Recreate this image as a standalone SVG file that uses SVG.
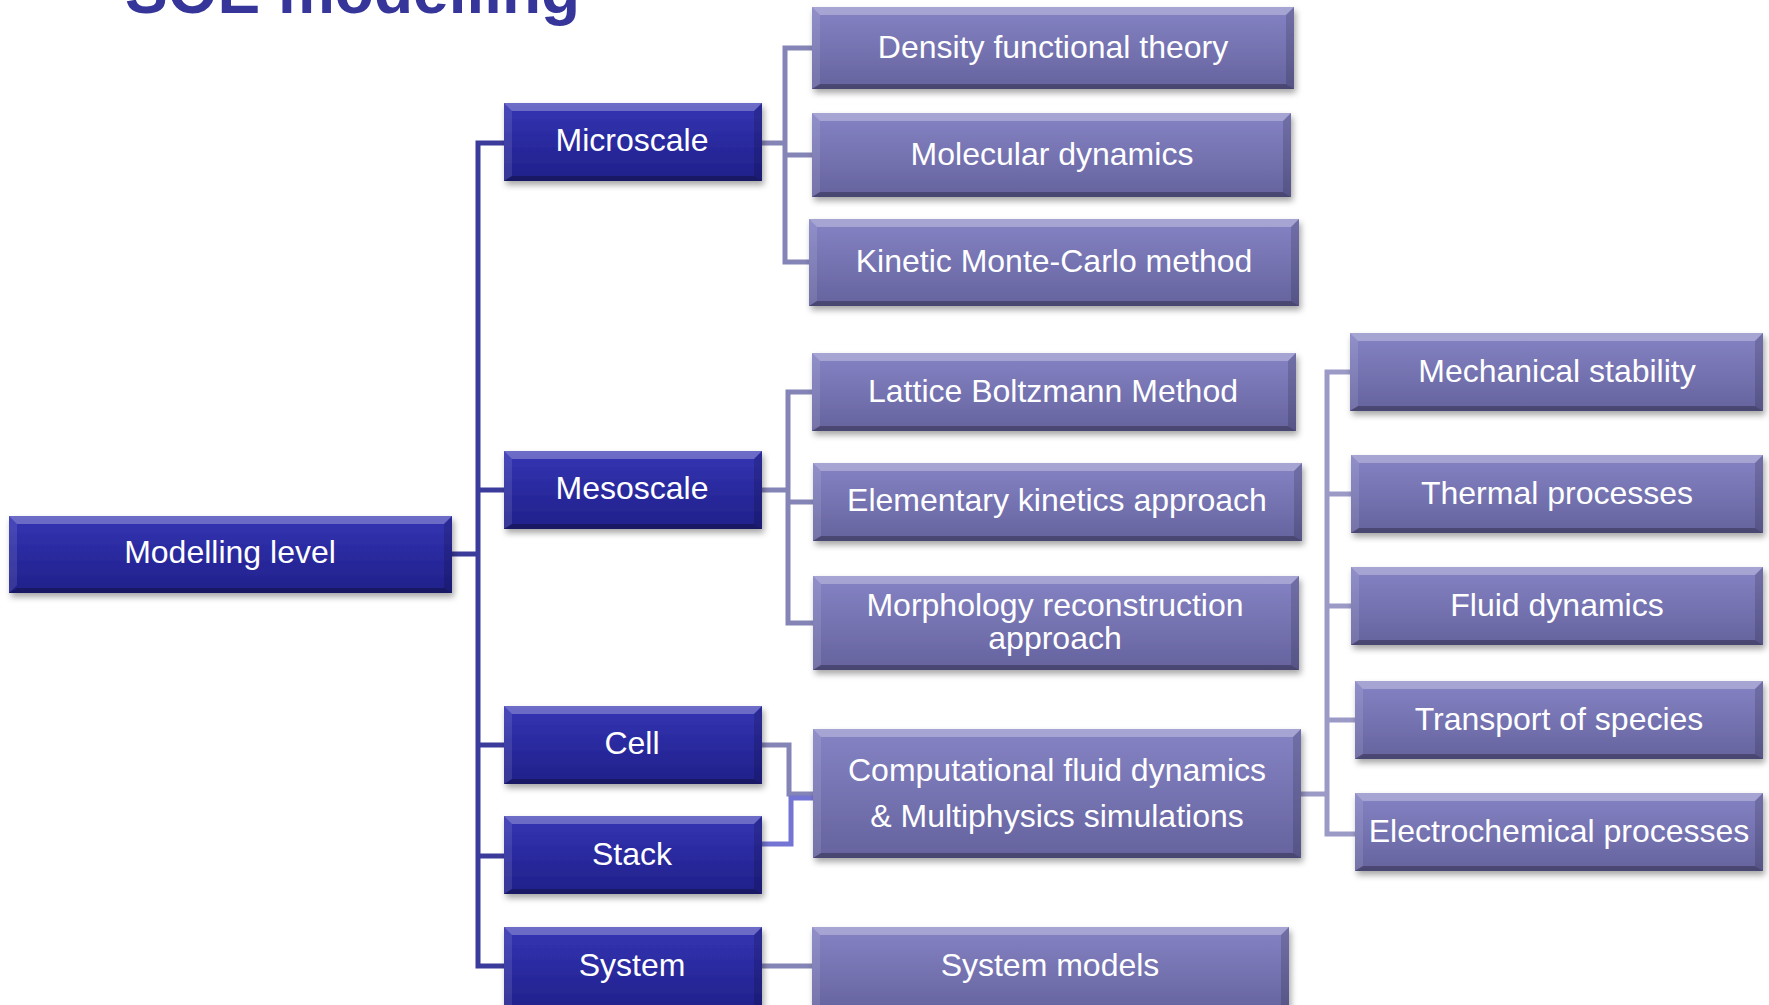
<svg xmlns="http://www.w3.org/2000/svg" width="1769" height="1005" viewBox="0 0 1769 1005">
<style>
  text { font-family: "Liberation Sans", Arial, sans-serif; }
  .lbl { font-size: 32px; fill: #ffffff; text-anchor: middle; }
  .title { font-size: 64px; font-weight: bold; fill: #35359a; }
  .dark { fill: url(#gDark); filter: url(#sh); }
  .pur { fill: url(#gPur); filter: url(#sh); }
  .bt { fill: #ffffff; fill-opacity: 0.28; }
  .bl { fill: #ffffff; fill-opacity: 0.10; }
  .bb { fill: #000000; fill-opacity: 0.28; }
  .br { fill: #000000; fill-opacity: 0.15; }
  .c0 { fill: none; stroke: #3b3b9b; stroke-width: 5; }
  .c1 { fill: none; stroke: #8584b6; stroke-width: 5; }
  .c2 { fill: none; stroke: #9b99c6; stroke-width: 5; }
  .c3 { fill: none; stroke: #7474d4; stroke-width: 5; }
</style>
<defs>
  <linearGradient id="gDark" x1="0" y1="0" x2="0" y2="1">
    <stop offset="0" stop-color="#3434b4"/>
    <stop offset="1" stop-color="#20208a"/>
  </linearGradient>
  <linearGradient id="gPur" x1="0" y1="0" x2="0" y2="1">
    <stop offset="0" stop-color="#8583c4"/>
    <stop offset="1" stop-color="#65639e"/>
  </linearGradient>
  <filter id="sh" x="-5%" y="-10%" width="112%" height="130%">
    <feDropShadow dx="2" dy="4" stdDeviation="3" flood-color="#000" flood-opacity="0.35"/>
  </filter>
</defs>
<rect width="1769" height="1005" fill="#ffffff"/>
<text class="title" x="125" y="13">SOE modelling</text>

<g id="connectors">
  <path class="c0" d="M504 143 H478 V966 H504 M478 490 H504 M478 745 H504 M478 856 H504 M452 554 H478"/>
  <path class="c1" d="M762 143 H785 M812 48 H785 V262 H809 M785 155 H812"/>
  <path class="c1" d="M762 490 H788 M812 392 H788 V623 H813 M788 502 H813"/>
  <path class="c1" d="M762 745 H789 V794 H813"/>
  <path class="c3" d="M762 844 H791 V798 H813"/>
  <path class="c1" d="M762 966 H812"/>
  <path class="c2" d="M1301 794 H1327 M1350 372 H1327 V834 H1355 M1327 494 H1351 M1327 606 H1351 M1327 720 H1355"/>
</g>

<g id="modelling-level">
  <rect class="dark" x="9" y="516" width="443" height="77"/>
  <polygon class="bt" points="9,516 452,516 444,524 17,524"/>
  <polygon class="bl" points="9,516 17,524 17,585 9,593"/>
  <polygon class="bb" points="9,593 452,593 444,588 17,588"/>
  <polygon class="br" points="452,516 452,593 444,588 444,524"/>
  <text class="lbl" x="230" y="563">Modelling level</text>
</g>

<g id="microscale">
  <rect class="dark" x="504" y="103" width="258" height="78"/>
  <polygon class="bt" points="504,103 762,103 754,111 512,111"/>
  <polygon class="bl" points="504,103 512,111 512,176 504,181"/>
  <polygon class="bb" points="504,181 762,181 754,176 512,176"/>
  <polygon class="br" points="762,103 762,181 754,176 754,111"/>
  <text class="lbl" x="632" y="151">Microscale</text>
</g>

<g id="mesoscale">
  <rect class="dark" x="504" y="451" width="258" height="78"/>
  <polygon class="bt" points="504,451 762,451 754,459 512,459"/>
  <polygon class="bl" points="504,451 512,459 512,524 504,529"/>
  <polygon class="bb" points="504,529 762,529 754,524 512,524"/>
  <polygon class="br" points="762,451 762,529 754,524 754,459"/>
  <text class="lbl" x="632" y="499">Mesoscale</text>
</g>

<g id="cell">
  <rect class="dark" x="504" y="706" width="258" height="78"/>
  <polygon class="bt" points="504,706 762,706 754,714 512,714"/>
  <polygon class="bl" points="504,706 512,714 512,779 504,784"/>
  <polygon class="bb" points="504,784 762,784 754,779 512,779"/>
  <polygon class="br" points="762,706 762,784 754,779 754,714"/>
  <text class="lbl" x="632" y="754">Cell</text>
</g>

<g id="stack">
  <rect class="dark" x="504" y="816" width="258" height="78"/>
  <polygon class="bt" points="504,816 762,816 754,824 512,824"/>
  <polygon class="bl" points="504,816 512,824 512,889 504,894"/>
  <polygon class="bb" points="504,894 762,894 754,889 512,889"/>
  <polygon class="br" points="762,816 762,894 754,889 754,824"/>
  <text class="lbl" x="632" y="865">Stack</text>
</g>

<g id="system">
  <rect class="dark" x="504" y="927" width="258" height="86"/>
  <polygon class="bt" points="504,927 762,927 754,935 512,935"/>
  <polygon class="bl" points="504,927 512,935 512,1013 504,1013"/>
  <polygon class="br" points="762,927 762,1013 754,1013 754,935"/>
  <text class="lbl" x="632" y="976">System</text>
</g>

<g id="dft">
  <rect class="pur" x="812" y="7" width="482" height="82"/>
  <polygon class="bt" points="812,7 1294,7 1286,15 820,15"/>
  <polygon class="bl" points="812,7 820,15 820,84 812,89"/>
  <polygon class="bb" points="812,89 1294,89 1286,84 820,84"/>
  <polygon class="br" points="1294,7 1294,89 1286,84 1286,15"/>
  <text class="lbl" x="1053" y="58">Density functional theory</text>
</g>

<g id="md">
  <rect class="pur" x="812" y="113" width="479" height="84"/>
  <polygon class="bt" points="812,113 1291,113 1283,121 820,121"/>
  <polygon class="bl" points="812,113 820,121 820,192 812,197"/>
  <polygon class="bb" points="812,197 1291,197 1283,192 820,192"/>
  <polygon class="br" points="1291,113 1291,197 1283,192 1283,121"/>
  <text class="lbl" x="1052" y="165">Molecular dynamics</text>
</g>

<g id="kmc">
  <rect class="pur" x="809" y="219" width="490" height="87"/>
  <polygon class="bt" points="809,219 1299,219 1291,227 817,227"/>
  <polygon class="bl" points="809,219 817,227 817,301 809,306"/>
  <polygon class="bb" points="809,306 1299,306 1291,301 817,301"/>
  <polygon class="br" points="1299,219 1299,306 1291,301 1291,227"/>
  <text class="lbl" x="1054" y="272">Kinetic Monte-Carlo method</text>
</g>

<g id="lbm">
  <rect class="pur" x="812" y="353" width="484" height="78"/>
  <polygon class="bt" points="812,353 1296,353 1288,361 820,361"/>
  <polygon class="bl" points="812,353 820,361 820,426 812,431"/>
  <polygon class="bb" points="812,431 1296,431 1288,426 820,426"/>
  <polygon class="br" points="1296,353 1296,431 1288,426 1288,361"/>
  <text class="lbl" x="1053" y="402">Lattice Boltzmann Method</text>
</g>

<g id="eka">
  <rect class="pur" x="813" y="463" width="489" height="78"/>
  <polygon class="bt" points="813,463 1302,463 1294,471 821,471"/>
  <polygon class="bl" points="813,463 821,471 821,536 813,541"/>
  <polygon class="bb" points="813,541 1302,541 1294,536 821,536"/>
  <polygon class="br" points="1302,463 1302,541 1294,536 1294,471"/>
  <text class="lbl" x="1057" y="511">Elementary kinetics approach</text>
</g>

<g id="mra">
  <rect class="pur" x="813" y="576" width="486" height="94"/>
  <polygon class="bt" points="813,576 1299,576 1291,584 821,584"/>
  <polygon class="bl" points="813,576 821,584 821,665 813,670"/>
  <polygon class="bb" points="813,670 1299,670 1291,665 821,665"/>
  <polygon class="br" points="1299,576 1299,670 1291,665 1291,584"/>
  <text class="lbl" x="1055" y="616">Morphology reconstruction</text>
  <text class="lbl" x="1055" y="649">approach</text>
</g>

<g id="cfd">
  <rect class="pur" x="813" y="729" width="488" height="129"/>
  <polygon class="bt" points="813,729 1301,729 1293,737 821,737"/>
  <polygon class="bl" points="813,729 821,737 821,853 813,858"/>
  <polygon class="bb" points="813,858 1301,858 1293,853 821,853"/>
  <polygon class="br" points="1301,729 1301,858 1293,853 1293,737"/>
  <text class="lbl" x="1057" y="781">Computational fluid dynamics</text>
  <text class="lbl" x="1057" y="827">&amp; Multiphysics simulations</text>
</g>

<g id="system-models">
  <rect class="pur" x="812" y="927" width="477" height="86"/>
  <polygon class="bt" points="812,927 1289,927 1281,935 820,935"/>
  <polygon class="bl" points="812,927 820,935 820,1013 812,1013"/>
  <polygon class="br" points="1289,927 1289,1013 1281,1013 1281,935"/>
  <text class="lbl" x="1050" y="976">System models</text>
</g>

<g id="mech">
  <rect class="pur" x="1350" y="333" width="413" height="78"/>
  <polygon class="bt" points="1350,333 1763,333 1755,341 1358,341"/>
  <polygon class="bl" points="1350,333 1358,341 1358,406 1350,411"/>
  <polygon class="bb" points="1350,411 1763,411 1755,406 1358,406"/>
  <polygon class="br" points="1763,333 1763,411 1755,406 1755,341"/>
  <text class="lbl" x="1557" y="382">Mechanical stability</text>
</g>

<g id="thermal">
  <rect class="pur" x="1351" y="455" width="412" height="78"/>
  <polygon class="bt" points="1351,455 1763,455 1755,463 1359,463"/>
  <polygon class="bl" points="1351,455 1359,463 1359,528 1351,533"/>
  <polygon class="bb" points="1351,533 1763,533 1755,528 1359,528"/>
  <polygon class="br" points="1763,455 1763,533 1755,528 1755,463"/>
  <text class="lbl" x="1557" y="504">Thermal processes</text>
</g>

<g id="fluid">
  <rect class="pur" x="1351" y="567" width="412" height="78"/>
  <polygon class="bt" points="1351,567 1763,567 1755,575 1359,575"/>
  <polygon class="bl" points="1351,567 1359,575 1359,640 1351,645"/>
  <polygon class="bb" points="1351,645 1763,645 1755,640 1359,640"/>
  <polygon class="br" points="1763,567 1763,645 1755,640 1755,575"/>
  <text class="lbl" x="1557" y="616">Fluid dynamics</text>
</g>

<g id="transport">
  <rect class="pur" x="1355" y="681" width="408" height="78"/>
  <polygon class="bt" points="1355,681 1763,681 1755,689 1363,689"/>
  <polygon class="bl" points="1355,681 1363,689 1363,754 1355,759"/>
  <polygon class="bb" points="1355,759 1763,759 1755,754 1363,754"/>
  <polygon class="br" points="1763,681 1763,759 1755,754 1755,689"/>
  <text class="lbl" x="1559" y="730">Transport of species</text>
</g>

<g id="electro">
  <rect class="pur" x="1355" y="793" width="408" height="78"/>
  <polygon class="bt" points="1355,793 1763,793 1755,801 1363,801"/>
  <polygon class="bl" points="1355,793 1363,801 1363,866 1355,871"/>
  <polygon class="bb" points="1355,871 1763,871 1755,866 1363,866"/>
  <polygon class="br" points="1763,793 1763,871 1755,866 1755,801"/>
  <text class="lbl" x="1559" y="842">Electrochemical processes</text>
</g>
</svg>
